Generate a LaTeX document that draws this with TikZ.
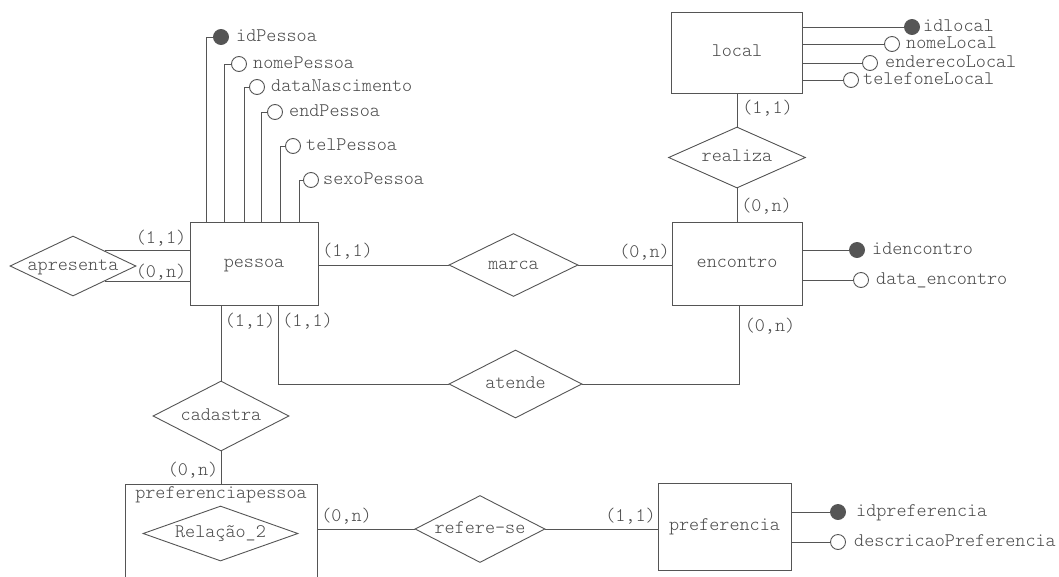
\documentclass[tikz,border=0pt]{standalone}
\usepackage{fontspec}
\setmonofont{Latin Modern Mono Light}
\usetikzlibrary{shapes.geometric}
\definecolor{lc}{HTML}{555555}
\definecolor{tc}{HTML}{4A4A4A}
\begin{document}
\begin{tikzpicture}[x=1pt,y=-1pt,
  every node/.style={font=\ttfamily\fontsize{19.2pt}{22pt}\selectfont, text=tc, inner sep=0pt, text height=8.3pt, text depth=0pt},
  entity/.style={draw=lc, line width=0.9pt, rectangle},
  rel/.style={draw=lc, line width=0.9pt, diamond, aspect=2},
  keyattr/.style={circle, draw=lc, fill=lc, line width=0.9pt, minimum size=15pt},
  attr/.style={circle, draw=lc, fill=white, line width=0.9pt, minimum size=15pt},
  card/.style={anchor=center},
  atxt/.style={anchor=west},
  conn/.style={draw=lc, line width=0.9pt},
]
\fill[white] (0,0) rectangle (1059,576);
\useasboundingbox (0,0) rectangle (1059,576);
\clip (0,0) rectangle (1059,576);

% entities
\node[entity, minimum width=128pt, minimum height=83pt] (pessoa) at (254,263.5) {pessoa};
\node[entity, minimum width=131pt, minimum height=81pt] (local) at (737,52.5) {local};
\node[entity, minimum width=130pt, minimum height=83pt] (encontro) at (737,263.5) {encontro};
\node[entity, minimum width=133pt, minimum height=87pt] (preferencia) at (724.5,526.5) {preferencia};
\node[entity, minimum width=192pt, minimum height=120pt] (prefpessoa) at (221,544) {};
\node[anchor=center] (prefpessoatitle) at (221,494) {preferenciapessoa};

% relationships
\node[rel, minimum width=126pt, minimum height=60pt] (apresenta) at (73,266) {apresenta};
\node[rel, minimum width=129pt, minimum height=63pt] (marca) at (513.5,265) {marca};
\node[rel, minimum width=137pt, minimum height=61pt] (realiza) at (737,157.5) {realiza};
\node[rel, minimum width=136pt, minimum height=70pt] (cadastra) at (221,416) {cadastra};
\node[rel, minimum width=133pt, minimum height=68pt] (atende) at (515.5,384) {atende};
\node[rel, minimum width=130pt, minimum height=67pt] (referese) at (480,529) {refere-se};
\node[rel, minimum width=155pt, minimum height=55pt] (relacao) at (220.5,533.5) {Relação\_2};

% relationship connectors
\draw[conn] (apresenta.north east) -- (apresenta.north east -| pessoa.west);
\draw[conn] (apresenta.south east) -- (apresenta.south east -| pessoa.west);
\draw[conn] (marca.west) -- (marca.west -| pessoa.east);
\draw[conn] (marca.east) -- (marca.east -| encontro.west);
\draw[conn] (local.south) -- (realiza.north);
\draw[conn] (realiza.south) -- (encontro.north);
\draw[conn] ([xshift=2pt]encontro.south) |- (atende.east);
\draw[conn] ([xshift=24pt]pessoa.south) |- (atende.west);
\draw[conn] (cadastra.north) -- (cadastra.north |- pessoa.south);
\draw[conn] (cadastra.south) -- (cadastra.south |- prefpessoa.north);
\draw[conn] (referese.west) -- (referese.west -| prefpessoa.east);
\draw[conn] (referese.east) -- (referese.east -| preferencia.west);

% cardinalities
\node[card] (c1) at (161,239) {(1,1)};
\node[card] (c2) at (161,273) {(0,n)};
\node[card] (c3) at (347.5,252) {(1,1)};
\node[card] (c4) at (644.5,253) {(0,n)};
\node[card] (c5) at (767.5,109) {(1,1)};
\node[card] (c6) at (766.5,207) {(0,n)};
\node[card] (c7) at (770,327) {(0,n)};
\node[card] (c8) at (250,322) {(1,1)};
\node[card] (c9) at (307.5,322) {(1,1)};
\node[card] (c10) at (193,471) {(0,n)};
\node[card] (c11) at (346.5,517) {(0,n)};
\node[card] (c12) at (630.5,517) {(1,1)};

% pessoa attributes
\coordinate (pa1) at (206,222);
\coordinate (pa2) at (224,222);
\coordinate (pa3) at (244,222);
\coordinate (pa4) at (261,222);
\coordinate (pa5) at (280,222);
\coordinate (pa6) at (299,222);
\node[keyattr] (idPessoa) at (221,37) {};
\node[attr] (nomePessoa) at (239,64) {};
\node[attr] (dataNascimento) at (257,87) {};
\node[attr] (endPessoa) at (275,112) {};
\node[attr] (telPessoa) at (293,146) {};
\node[attr] (sexoPessoa) at (311,180) {};
\draw[conn] (pa1) |- (idPessoa.west);
\draw[conn] (pa2) |- (nomePessoa.west);
\draw[conn] (pa3) |- (dataNascimento.west);
\draw[conn] (pa4) |- (endPessoa.west);
\draw[conn] (pa5) |- (telPessoa.west);
\draw[conn] (pa6) |- (sexoPessoa.west);
\node[atxt] (t1) at (236,37) {idPessoa};
\node[atxt] (t2) at (253,64) {nomePessoa};
\node[atxt] (t3) at (271,87) {dataNascimento};
\node[atxt] (t4) at (289,112) {endPessoa};
\node[atxt] (t5) at (306,146) {telPessoa};
\node[atxt] (t6) at (323,180) {sexoPessoa};

% local attributes
\node[keyattr] (idlocal) at (912,27) {};
\node[attr] (nomeLocal) at (892,44) {};
\node[attr] (enderecoLocal) at (870,63) {};
\node[attr] (telefoneLocal) at (851,80) {};
\draw[conn] (idlocal.west) -- (idlocal.west -| local.east);
\draw[conn] (nomeLocal.west) -- (nomeLocal.west -| local.east);
\draw[conn] (enderecoLocal.west) -- (enderecoLocal.west -| local.east);
\draw[conn] (telefoneLocal.west) -- (telefoneLocal.west -| local.east);
\node[atxt] (t7) at (923,27) {idlocal};
\node[atxt] (t8) at (906,44) {nomeLocal};
\node[atxt] (t9) at (885,63) {enderecoLocal};
\node[atxt] (t10) at (863,80) {telefoneLocal};

% encontro attributes
\node[keyattr] (idencontro) at (857,250) {};
\node[attr] (dataencontro) at (861,280) {};
\draw[conn] (idencontro.west) -- (idencontro.west -| encontro.east);
\draw[conn] (dataencontro.west) -- (dataencontro.west -| encontro.east);
\node[atxt] (t11) at (872,250) {idencontro};
\node[atxt] (t12) at (876,280) {data\_encontro};

% preferencia attributes
\node[keyattr] (idpreferencia) at (838,512) {};
\node[attr] (descricao) at (838,542) {};
\draw[conn] (idpreferencia.west) -- (idpreferencia.west -| preferencia.east);
\draw[conn] (descricao.west) -- (descricao.west -| preferencia.east);
\node[atxt] (t13) at (856,512) {idpreferencia};
\node[atxt] (t14) at (854,542) {descricaoPreferencia};
\end{tikzpicture}
\end{document}
